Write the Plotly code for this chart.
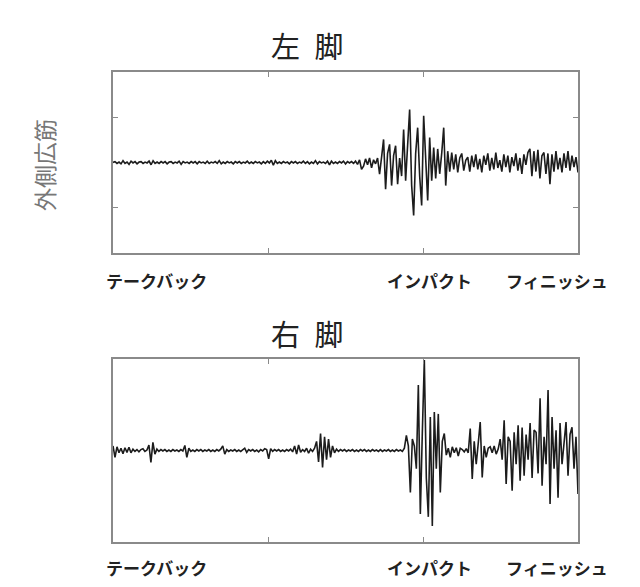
import plotly.graph_objects as go

# EMG amplitude (arbitrary units, ticks at +/-1) sampled uniformly over the swing
left_leg = [
    0.00, 0.02, -0.02, 0.01, -0.03, 0.04, -0.02, 0.01, -0.04, 0.03,
    -0.01, 0.02, -0.03, 0.01, 0.02, -0.02, 0.01, -0.01, 0.03, -0.05,
    0.04, -0.02, 0.01, -0.02, 0.02, -0.01, 0.02, -0.03, 0.01, 0.02,
    -0.02, 0.01, -0.01, 0.03, -0.04, 0.02, -0.01, 0.01, -0.02, 0.02,
    -0.01, 0.02, -0.03, 0.02, -0.01, 0.01, -0.02, 0.03, -0.02, 0.01,
    -0.01, 0.02, -0.02, 0.04, -0.03, 0.01, -0.02, 0.02, -0.01, 0.01,
    -0.03, 0.02, -0.01, 0.02, -0.02, 0.01, -0.01, 0.03, -0.02, 0.01,
    -0.02, 0.02, -0.01, 0.01, -0.03, 0.02, -0.02, 0.03, -0.01, 0.05,
    -0.06, 0.04, -0.02, 0.01, -0.02, 0.02, -0.01, 0.01, -0.03, 0.02,
    -0.01, 0.02, -0.02, 0.01, -0.01, 0.03, -0.02, 0.02, -0.03, 0.01,
    -0.02, 0.04, -0.03, 0.02, -0.01, 0.01, -0.02, 0.03, -0.05, 0.03,
    -0.02, 0.01, -0.02, 0.02, -0.01, 0.03, -0.03, 0.02, -0.01, 0.02,
    -0.02, 0.03, -0.04, 0.06, -0.15, -0.08, 0.08, -0.05, 0.10, -0.12,
    0.06, -0.03, 0.10, -0.26, 0.12, 0.51, -0.59, 0.20, 0.40, -0.51,
    0.15, 0.37, -0.48, 0.10, -0.30, 0.73, -0.40, 0.35, 1.17, -0.50,
    -1.17, 0.20, 0.77, -0.30, -0.95, 1.03, 0.20, -0.84, 0.55, -0.40,
    0.33, -0.35, 0.30, -0.25, 0.20, 0.77, -0.51, 0.25, -0.20, 0.22,
    -0.15, 0.18, -0.22, 0.10, 0.20, -0.18, 0.05, 0.12, -0.20, 0.15,
    -0.10, 0.18, -0.15, 0.08, -0.22, 0.15, -0.05, 0.20, -0.18, 0.10,
    -0.15, 0.22, -0.12, 0.05, -0.20, 0.18, -0.10, 0.15, -0.22, 0.12,
    -0.08, 0.20, -0.18, 0.10, -0.25, 0.18, -0.05, 0.22, 0.30, -0.30,
    0.25, -0.20, 0.28, -0.35, 0.15, 0.22, -0.25, 0.20, -0.48, 0.18,
    -0.20, 0.25, -0.15, 0.10, -0.22, 0.20, -0.12, 0.25, -0.18, 0.15,
    -0.10, 0.12, -0.22,
]

right_leg = [
    0.10, -0.15, 0.08, -0.05, 0.05, -0.07, 0.06, -0.04, 0.07, -0.05,
    0.03, -0.02, 0.02, -0.03, 0.02, 0.04, -0.02, 0.01, 0.12, -0.26,
    0.18, -0.08, 0.03, -0.02, 0.02, -0.01, 0.02, -0.02, 0.01, -0.02,
    0.02, -0.01, 0.01, -0.02, 0.02, -0.01, 0.11, -0.15, 0.05, -0.02,
    0.01, -0.02, 0.02, -0.01, 0.02, -0.02, 0.01, -0.01, 0.02, -0.02,
    0.01, -0.02, 0.02, -0.01, 0.03, 0.10, -0.08, 0.02, -0.02, 0.01,
    -0.01, 0.02, -0.02, 0.01, -0.02, 0.02, 0.05, -0.04, 0.02, -0.01,
    0.02, -0.02, 0.01, -0.03, 0.02, -0.01, 0.04, 0.02, -0.18, 0.04,
    -0.02, 0.02, -0.01, 0.02, -0.02, 0.01, -0.02, 0.02, -0.01, 0.03,
    -0.03, 0.10, -0.08, 0.12, -0.04, 0.02, -0.02, 0.05, -0.06, 0.03,
    -0.02, 0.05, 0.20, -0.25, 0.37, -0.37, 0.30, -0.20, 0.25, -0.15,
    0.10, -0.05, 0.03, -0.02, 0.02, -0.01, 0.02, -0.02, 0.01, -0.01,
    0.02, -0.02, 0.01, -0.02, 0.02, -0.01, 0.02, -0.02, 0.01, -0.02,
    0.02, -0.01, 0.01, -0.02, 0.02, -0.02, 0.01, -0.01, 0.02, -0.02,
    0.01, -0.02, 0.02, -0.01, 0.01, -0.02, 0.05, 0.33, 0.10, -0.92,
    0.25, 0.10, -0.40, 1.43, -1.39, 0.40, 1.98, -0.60, -1.45, 0.73,
    -1.65, 0.84, -0.40, 0.80, -0.92, 0.20, 0.37, -0.10, 0.05, -0.15,
    0.08, -0.05, 0.06, -0.12, 0.05, 0.02, -0.03, 0.04, -0.05, 0.48,
    -0.62, 0.20, -0.30, 0.15, 0.62, -0.59, 0.10, -0.15, 0.05, 0.08,
    -0.05, 0.10, -0.08, 0.03, 0.25, -0.20, 0.66, -0.73, 0.30, 0.20,
    -0.88, 0.40, -0.30, 0.55, -0.66, 0.50, -0.55, 0.35, -0.20, 0.60,
    -0.60, 0.45, 0.40, -0.50, 1.14, -0.77, 0.30, -0.30, 1.32, -1.17,
    0.73, -0.40, 0.44, -1.03, 0.60, -0.30, 0.20, 0.62, -0.55, 0.35,
    0.51, -0.40, 0.30, -0.95,
]

titles = ["左\u2002脚", "右\u2002脚"]
muscle_label = "外側広筋"
phase_labels = ["テークバック", "インパクト", "フィニッシュ"]

W, H = 640, 587
OFF = 8  # page body margin
def px_x(p): return (p - OFF) / W
def px_y(p): return 1 - (p - OFF) / H

fig = go.Figure()
series = [left_leg, right_leg]
y_domains = [[px_y(253), px_y(72)], [px_y(542), px_y(359)]]
for k, vals in enumerate(series):
    n = len(vals)
    sfx = "" if k == 0 else str(k + 1)
    fig.add_trace(go.Scatter(
        x=list(range(n)), y=vals, mode="lines",
        line=dict(color="#1c1c1c", width=1.6),
        xaxis="x" + sfx, yaxis="y" + sfx, showlegend=False, hoverinfo="skip",
    ))
    xr = [0, n - 1]
    xa = dict(domain=[px_x(113), px_x(578)], range=xr, showline=True, mirror="ticks",
              linecolor="#8a8a8a", linewidth=1.5, ticks="inside", ticklen=5,
              tickcolor="#8a8a8a", tickwidth=1.2,
              tickvals=[(n - 1) / 3, 2 * (n - 1) / 3], showticklabels=False,
              showgrid=False, zeroline=False, anchor="y" + sfx)
    ya = dict(domain=y_domains[k], range=[-2, 2], showline=True, mirror="ticks",
              linecolor="#8a8a8a", linewidth=1.5,
              ticks="inside" if k == 0 else "", ticklen=5,
              tickcolor="#8a8a8a", tickwidth=1.2,
              tickvals=[-1, 1] if k == 0 else [], showticklabels=False,
              showgrid=False, zeroline=False, anchor="x" + sfx)
    fig.layout["xaxis" + sfx] = xa
    fig.layout["yaxis" + sfx] = ya

ann = []
font_cjk = "Noto Sans CJK JP"
for k, (t, ty) in enumerate(zip(titles, [45, 333])):
    ann.append(dict(text=t, x=px_x(307), y=px_y(ty), xref="paper", yref="paper",
                    showarrow=False, font=dict(family=font_cjk, size=29, color="#222"),
                    xanchor="center", yanchor="middle"))
ann.append(dict(text=muscle_label, x=px_x(44), y=px_y(165), xref="paper", yref="paper",
                showarrow=False, textangle=-90,
                font=dict(family=font_cjk, size=23, color="#777"),
                xanchor="center", yanchor="middle"))
for ly in [280, 567]:
    for lab, lx in zip(phase_labels, [156, 429, 557]):
        ann.append(dict(text="<b>" + lab + "</b>", x=px_x(lx), y=px_y(ly),
                        xref="paper", yref="paper", showarrow=False,
                        font=dict(family=font_cjk, size=17, color="#222"),
                        xanchor="center", yanchor="middle"))

fig.update_layout(width=W, height=H, margin=dict(l=0, r=0, t=0, b=0),
                  paper_bgcolor="white", plot_bgcolor="white", annotations=ann)
fig.write_html("out.html")
